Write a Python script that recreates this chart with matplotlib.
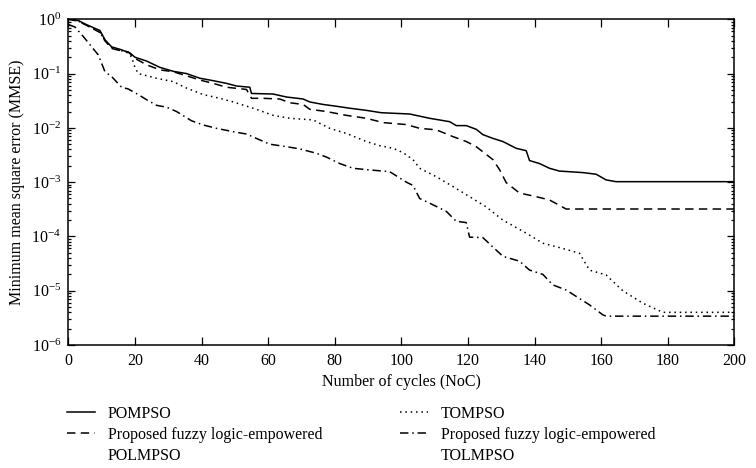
import matplotlib
matplotlib.use("Agg")
import matplotlib.pyplot as plt
from matplotlib.lines import Line2D
from matplotlib.ticker import LogLocator, NullFormatter, FixedLocator

plt.rcParams['font.family'] = ['Liberation Serif', 'DejaVu Serif']
plt.rcParams['mathtext.fontset'] = 'stix'

# ---- data ----
x_pompso = [0, 3, 5, 9.5, 11, 13, 15.5, 18.5, 20, 23.5, 27.5, 31.5, 35.5, 39.5, 43.5, 47.5, 50.5, 54.5, 55,
            61.5, 65.5, 70.5, 72.5, 76.5, 80.5, 84.5, 89.5, 94, 102.5, 108.5, 114.5, 116.5, 119.5, 122.5,
            124.5, 127.5, 130.5, 134.5, 137.5, 138.5, 141.5, 144.5, 147.5, 154.5, 158.5, 161.5, 164.5, 200]
y_pompso = [1.0, 0.95, 0.82, 0.62, 0.42, 0.31, 0.28, 0.24, 0.20, 0.17, 0.13, 0.11, 0.10, 0.082, 0.074, 0.066,
            0.059, 0.056, 0.043, 0.042, 0.037, 0.034, 0.030, 0.027, 0.025, 0.023, 0.021, 0.019, 0.018, 0.015,
            0.013, 0.011, 0.011, 0.0094, 0.0075, 0.0064, 0.0056, 0.0042, 0.0038, 0.0025, 0.0022, 0.0018,
            0.0016, 0.0015, 0.0014, 0.0011, 0.00102, 0.00102]

x_polmpso = [0, 3, 5, 10, 11, 13, 15, 18, 20, 23.5, 27.5, 31.5, 35.5, 39.5, 43.5, 47.5, 53.5, 55, 58.5, 63.5,
             66.5, 70.5, 72.5, 77.5, 83.5, 89.5, 94.5, 101.5, 105.5, 110.5, 115.5, 119.5, 122.5, 127.5, 129.5,
             131.5, 135.5, 140.5, 144.5, 149.5, 200]
y_polmpso = [1.0, 0.93, 0.8, 0.55, 0.40, 0.29, 0.27, 0.25, 0.19, 0.145, 0.117, 0.108, 0.091, 0.076, 0.066,
             0.056, 0.051, 0.035, 0.035, 0.034, 0.029, 0.027, 0.022, 0.020, 0.017, 0.015, 0.0125, 0.0115,
             0.0098, 0.0092, 0.0069, 0.0056, 0.0045, 0.0026, 0.0017, 0.00098, 0.00063, 0.00054, 0.00047,
             0.00032, 0.00032]

x_tompso = [0, 3, 5, 9.5, 11, 13, 15.5, 18, 19, 20, 21, 26.5, 31.5, 35.5, 40.5, 45.5, 49.5, 55.5, 61.5, 66.5,
            73.5, 78.5, 83.5, 89.5, 93.5, 97.5, 100.5, 103.5, 105.5, 110.5, 115.5, 120.5, 125.5, 130.5, 137.5,
            142.5, 148.5, 153.5, 156.5, 161.5, 166.5, 172.5, 178.5, 200]
y_tompso = [1.0, 0.93, 0.8, 0.58, 0.40, 0.30, 0.27, 0.24, 0.2, 0.13, 0.10, 0.082, 0.071, 0.054, 0.041, 0.035,
            0.030, 0.023, 0.017, 0.015, 0.014, 0.0098, 0.0079, 0.0056, 0.0047, 0.0042, 0.0035, 0.0026, 0.0018,
            0.00126, 0.00083, 0.00054, 0.00035, 0.0002, 0.000115, 7.5e-5, 6.0e-5, 4.9e-5, 2.4e-5, 1.95e-5,
            1.0e-5, 5.9e-6, 4.0e-6, 4.0e-6]

x_tolmpso = [0, 2, 4.5, 9, 11, 13, 16, 18, 21, 23.5, 26.5, 29.5, 32.5, 37, 40.5, 44.5, 49.5, 53.5, 57.5, 60.5,
             65.5, 69.5, 74.5, 77.5, 81.5, 85.5, 89.5, 96.5, 101.5, 103.5, 105.5, 108.5, 113.5, 116.5, 119.5,
             120.5, 124.5, 130.5, 135.5, 138.5, 142.5, 145.5, 149.5, 156.5, 160.5, 161.5, 200]
y_tolmpso = [0.8, 0.72, 0.48, 0.22, 0.108, 0.088, 0.056, 0.052, 0.041, 0.033, 0.026, 0.024, 0.020, 0.0135,
             0.0113, 0.0098, 0.0085, 0.0077, 0.006, 0.005, 0.0045, 0.0041, 0.0034, 0.0029, 0.0022, 0.0018,
             0.0017, 0.00156, 0.001, 0.00087, 0.0005, 0.00041, 0.00029, 0.00019, 0.00018, 9.7e-5, 9.5e-5,
             4.3e-5, 3.5e-5, 2.4e-5, 2.0e-5, 1.28e-5, 1.03e-5, 5.5e-6, 3.6e-6, 3.4e-6, 3.4e-6]

labels_col1 = ["POMPSO", "Proposed fuzzy logic-empowered", "POLMPSO"]
labels_col2 = ["TOMPSO", "Proposed fuzzy logic-empowered", "TOLMPSO"]
x_ticks = [0, 20, 40, 60, 80, 100, 120, 140, 160, 180, 200]

# ---- figure ----
fig = plt.figure(figsize=(7.56, 4.68), dpi=100)
ax = fig.add_axes([0.0904, 0.2628, 0.8809, 0.6960])

lw = 1.1
l1, = ax.plot(x_pompso, y_pompso, color='black', lw=lw, linestyle='-')
l2, = ax.plot(x_polmpso, y_polmpso, color='black', lw=lw, linestyle=(0, (5.5, 3.5)))
l3, = ax.plot(x_tompso, y_tompso, color='black', lw=lw, linestyle=(0, (1, 2.5)))
l4, = ax.plot(x_tolmpso, y_tolmpso, color='black', lw=lw, linestyle=(0, (5.5, 2.5, 1, 2.5)))

ax.set_yscale('log')
ax.set_xlim(0, 200)
ax.set_ylim(1e-6, 1)
ax.xaxis.set_major_locator(FixedLocator(x_ticks))
ax.yaxis.set_major_locator(LogLocator(base=10, numticks=10))
ax.yaxis.set_minor_locator(LogLocator(base=10, subs=range(2, 10), numticks=100))
ax.yaxis.set_minor_formatter(NullFormatter())

ax.tick_params(axis='both', which='both', direction='in', top=True, right=True,
               labelsize=11.5, colors='black', width=0.9)
ax.tick_params(axis='x', which='major', length=6, pad=6)
ax.tick_params(axis='y', which='major', length=5, pad=5)
ax.tick_params(axis='y', which='minor', length=2.5)
for s in ax.spines.values():
    s.set_linewidth(1.1)

ax.set_xlabel("Number of cycles (NoC)", fontsize=11.5, labelpad=3)
ax.set_ylabel("Minimum mean square error (MMSE)", fontsize=11.5, labelpad=5)

blank = Line2D([], [], linestyle='none')
leg_kw = dict(loc='upper left', frameon=False, fontsize=11.5, borderpad=0, borderaxespad=0,
              handlelength=1.75, handletextpad=0.8, labelspacing=0.3,
              bbox_transform=fig.transFigure)
leg1 = fig.legend([l1, l2, blank], labels_col1, bbox_to_anchor=(67 / 756, 1 - 406 / 468), **leg_kw)
leg2 = fig.legend([l3, l4, blank], labels_col2, bbox_to_anchor=(400 / 756, 1 - 406 / 468), **leg_kw)

fig.savefig("out.png", dpi=100)
